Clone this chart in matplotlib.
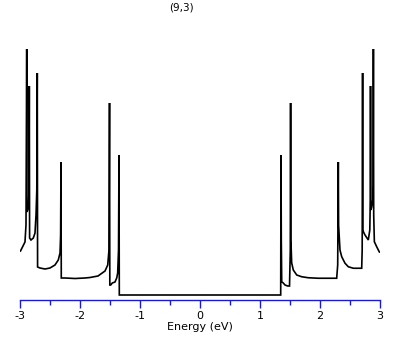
import matplotlib
matplotlib.use("Agg")
import matplotlib.pyplot as plt
from matplotlib.ticker import MultipleLocator

plt.rcParams['axes.unicode_minus'] = False
plt.rcParams['font.family'] = ['DejaVu Sans']

title = "(9,3)"
xlabel = "Energy (eV)"
xticks = [-3, -2, -1, 0, 1, 2, 3]

# Density of states (energy in eV, DOS in arbitrary units)
energy_left = [-2.992, -2.95, -2.917, -2.9, -2.888, -2.883, -2.858, -2.85, -2.845,
               -2.84, -2.817, -2.778, -2.75, -2.733, -2.72, -2.712, -2.707, -2.667,
               -2.583, -2.5, -2.417, -2.362, -2.333, -2.323, -2.317, -2.312, -2.25,
               -2.083, -1.917, -1.833, -1.7, -1.583, -1.538, -1.517, -1.508, -1.503,
               -1.488, -1.462, -1.417, -1.388, -1.372, -1.358, -1.35, -1.345]
dos_left = [1.96, 2.16, 2.32, 3.0, 10.04, 3.52, 3.72, 4.4, 8.56,
            2.48, 2.4, 2.48, 2.68, 3.4, 4.4, 9.08, 1.32, 1.28,
            1.24, 1.28, 1.4, 1.6, 1.88, 2.6, 5.52, 0.88, 0.88,
            0.86, 0.88, 0.9, 0.96, 1.16, 1.4, 2.0, 7.88, 0.6,
            0.6, 0.68, 0.72, 0.88, 1.08, 2.0, 5.8, 0.2]

energy_right = [1.345, 1.35, 1.355, 1.362, 1.388, 1.417, 1.462, 1.492, 1.505,
                1.51, 1.515, 1.528, 1.555, 1.612, 1.695, 1.805, 1.972, 2.278,
                2.295, 2.305, 2.31, 2.333, 2.362, 2.417, 2.472, 2.555, 2.695,
                2.703, 2.71, 2.715, 2.725, 2.75, 2.805, 2.83, 2.838, 2.842,
                2.847, 2.86, 2.88, 2.885, 2.89, 2.895, 2.906, 2.945, 2.972, 2.99]
dos_right = [0.2, 5.8, 2.4, 0.73, 0.68, 0.6, 0.56, 0.56, 2.0,
             7.88, 2.4, 1.48, 1.2, 1.0, 0.93, 0.89, 0.87, 0.87,
             1.4, 5.52, 3.0, 2.0, 1.73, 1.47, 1.33, 1.27, 1.27,
             2.0, 9.08, 2.8, 2.72, 2.6, 2.4, 2.8, 4.0, 8.56,
             3.6, 3.7, 4.0, 4.6, 10.04, 3.4, 2.33, 2.13, 2.0, 1.92]

energy = energy_left + energy_right
dos = dos_left + dos_right

fig = plt.figure(figsize=(4.09, 3.45), dpi=100)
ax = fig.add_axes([20 / 409, 45 / 345, 360 / 409, 265 / 345])
ax.plot(energy, dos, color='black', linewidth=1.2, solid_joinstyle='miter')

ax.set_xlim(-3, 3)
ax.set_ylim(0, 10.6)
for s in ('left', 'top', 'right'):
    ax.spines[s].set_visible(False)
blue = '#1a1ad0'
ax.spines['bottom'].set_color(blue)
ax.spines['bottom'].set_linewidth(1.0)
ax.set_yticks([])
ax.set_xticks(xticks)
ax.xaxis.set_minor_locator(MultipleLocator(0.5))
ax.tick_params(axis='x', which='major', direction='out', length=5.5, width=1.0,
               color=blue, labelsize=8, pad=2.5, labelcolor='black')
ax.tick_params(axis='x', which='minor', direction='out', length=3.5, width=1.0,
               color=blue)
ax.set_xlabel(xlabel, fontsize=8, labelpad=1)

fig.text(181 / 409, 1 - 7 / 345, title, ha='center', va='center', fontsize=7.5)

fig.savefig('out.png', dpi=100, facecolor='white')
